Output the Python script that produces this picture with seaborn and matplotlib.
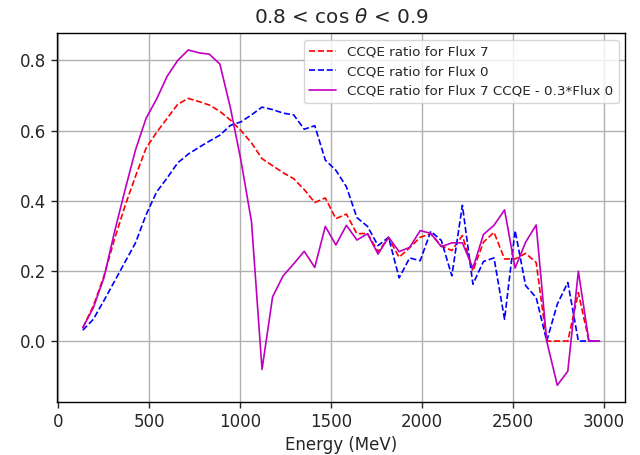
import numpy as np
import pandas as pd
import seaborn as sns
import matplotlib
matplotlib.use("Agg")
import matplotlib.pyplot as plt

energy = [134 + 58 * k for k in range(50)]

flux7 = [0.038, 0.10, 0.185, 0.29, 0.385, 0.47, 0.55, 0.595, 0.635, 0.675,
         0.692, 0.683, 0.673, 0.655, 0.63, 0.60, 0.565, 0.52, 0.50, 0.48,
         0.463, 0.432, 0.395, 0.408, 0.349, 0.362, 0.306, 0.307, 0.255, 0.294,
         0.239, 0.266, 0.296, 0.306, 0.272, 0.258, 0.301, 0.20, 0.282, 0.31,
         0.234, 0.234, 0.25, 0.224, 0.0, 0.0, 0.0, 0.138, 0.0, 0.0]

flux0 = [0.031, 0.062, 0.115, 0.17, 0.225, 0.28, 0.36, 0.425, 0.465, 0.508,
         0.533, 0.552, 0.57, 0.587, 0.615, 0.625, 0.645, 0.667, 0.66, 0.65,
         0.645, 0.604, 0.614, 0.516, 0.487, 0.44, 0.352, 0.327, 0.272, 0.296,
         0.18, 0.237, 0.229, 0.313, 0.287, 0.186, 0.387, 0.162, 0.227, 0.237,
         0.062, 0.315, 0.158, 0.124, 0.0, 0.105, 0.167, 0.0, 0.0, 0.0]

combo = [0.038, 0.095, 0.18, 0.31, 0.43, 0.545, 0.635, 0.69, 0.755, 0.80,
         0.83, 0.822, 0.818, 0.79, 0.665, 0.515, 0.34, -0.081, 0.126, 0.186,
         0.22, 0.256, 0.21, 0.327, 0.274, 0.330, 0.288, 0.306, 0.248, 0.296,
         0.255, 0.267, 0.315, 0.307, 0.269, 0.28, 0.28, 0.208, 0.304, 0.33,
         0.374, 0.208, 0.282, 0.331, 0.0, -0.126, -0.086, 0.199, 0.0, 0.0]

labels = ["CCQE ratio for Flux 7", "CCQE ratio for Flux 0",
          "CCQE ratio for Flux 7 CCQE - 0.3*Flux 0"]

sns.set_style("ticks")
plt.rcParams['font.family'] = ['DejaVu Sans']

fig = plt.figure(figsize=(6.4, 4.55), dpi=100)
ax = fig.add_axes([0.089, 0.1165, 0.888, 0.8105])

sns.lineplot(x=energy, y=flux7, ax=ax, color="red", linestyle="--", lw=1.2, label=labels[0])
sns.lineplot(x=energy, y=flux0, ax=ax, color="blue", linestyle="--", lw=1.2, label=labels[1])
sns.lineplot(x=energy, y=combo, ax=ax, color="m", linestyle="-", lw=1.2, label=labels[2])

ax.grid(True, color="#b0b0b0", linewidth=1.0)
ax.set_axisbelow(True)
ax.set_xticks([0, 500, 1000, 1500, 2000, 2500, 3000])
ax.set_yticks([0.0, 0.2, 0.4, 0.6, 0.8])
ax.set_xlabel("Energy (MeV)", fontsize=12)
ax.set_title(r"0.8 < cos $\theta$ < 0.9", fontsize=14.4, pad=7)
ax.tick_params(labelsize=12, width=1.0, length=4.2)
for s in ax.spines.values():
    s.set_color("black")
    s.set_linewidth(1.0)
ax.legend(loc="upper right", fontsize=9.7, handlelength=2.0)

fig.savefig("out.png", dpi=100)
